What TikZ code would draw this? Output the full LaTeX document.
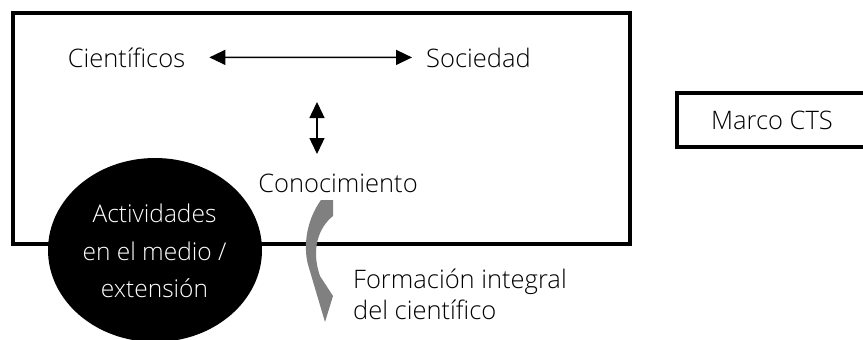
\documentclass[tikz,border=0pt]{standalone}
\usepackage{fontspec}
\setmainfont{Open Sans Light}
\usetikzlibrary{arrows.meta,shapes.geometric}

\begin{document}
\begin{tikzpicture}[x=1pt,y=-1pt,
  txt/.style={font=\fontsize{25.5}{31}\selectfont, inner sep=0pt},
  dbl/.style={{Triangle[length=16pt,width=15pt]}-{Triangle[length=16pt,width=15pt]}, line width=1.4pt},
  frame/.style={draw, line width=4pt}]

\useasboundingbox (0,0) rectangle (863,340);

% marco general
\draw[frame] (13,13) rectangle (630,244);

\node[txt, anchor=base] (cient) at (126.5,67) {Científicos};
\node[txt, anchor=base] (soc) at (478.5,67) {Sociedad};
\draw[dbl, shorten <=24pt, shorten >=14pt] (cient) -- (soc);

\node[txt, anchor=base] (conoc) at (338,192) {Conocimiento};
\coordinate (vtop) at (317,102);
\coordinate (vbot) at (317,154);
\draw[dbl] (vtop) -- (vbot);

% actividades
\node[ellipse, fill=black, minimum width=214pt, minimum height=184pt, inner sep=0pt] (activ) at (155,250) {};
\node[txt, text=white, align=center, font=\fontsize{24.5}{37.5}\selectfont] (activtxt) at (154.5,251) {Actividades\\en el medio /\\extensión};

% flecha curva
\fill[gray] (321,200) -- (333,200) -- (333,216)
  .. controls (318,228) and (311,250) .. (320,276)
  -- (333,296) -- (325,322) -- (309,268)
  .. controls (303,250) and (305,222) .. (321,200) -- cycle;

\node[txt, align=left, anchor=base west] (form) at (353,319) {Formación integral\\del científico};

\node[frame, txt, minimum width=190pt, minimum height=54pt] (cts) at (772,120) {Marco CTS};

\end{tikzpicture}
\end{document}
